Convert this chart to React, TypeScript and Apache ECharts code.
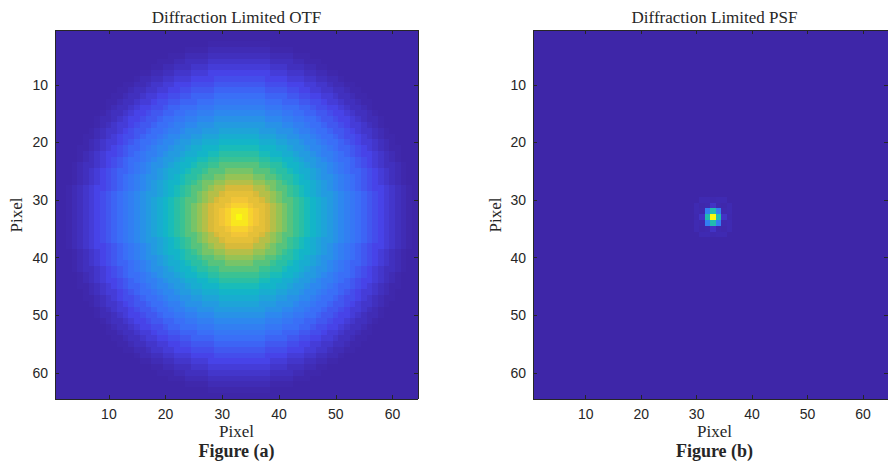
import React, { useEffect, useRef } from "react";
import * as echarts from "echarts";

// ---- data ----
const gridSize = 64; // pixels per side in both images
const pixelCategories = Array.from({ length: gridSize }, (_, i) => String(i + 1));
const tickLabels = [10, 20, 30, 40, 50, 60];

// OTF: value read along the centre row, indexed by radius (pixels) from the centre
const otfCenter = [33, 33];
const otfRadialProfile = [
  1.0, 0.96, 0.92, 0.88, 0.84, 0.8, 0.755, 0.715, 0.675, 0.635, 0.595,
  0.56, 0.52, 0.48, 0.445, 0.41, 0.375, 0.34, 0.305, 0.27, 0.24, 0.21,
  0.18, 0.15, 0.125, 0.1, 0.075, 0.055, 0.035, 0.02, 0.007, 0, 0,
];

// PSF: peak pixel and the values of the cells around it [dx, dy, value]
const psfCenter = [33, 33];
const psfCells = [
  [0, 0, 1.0],
  [1, 0, 0.54], [-1, 0, 0.54], [0, 1, 0.54], [0, -1, 0.54],
  [1, 1, 0.27], [-1, 1, 0.27], [1, -1, 0.27], [-1, -1, 0.27],
  [2, 0, 0.045], [-2, 0, 0.045], [0, 2, 0.045], [0, -2, 0.045],
  [2, 1, 0.011], [-2, 1, 0.011], [2, -1, 0.011], [-2, -1, 0.011],
  [1, 2, 0.011], [-1, 2, 0.011], [1, -2, 0.011], [-1, -2, 0.011],
  [2, 2, 0.006], [-2, 2, 0.006], [2, -2, 0.006], [-2, -2, 0.006],
  [3, 0, 0.012], [-3, 0, 0.012], [0, 3, 0.012], [0, -3, 0.012],
  [3, 1, 0.015], [-3, 1, 0.015], [3, -1, 0.015], [-3, -1, 0.015],
  [1, 3, 0.015], [-1, 3, 0.015], [1, -3, 0.015], [-1, -3, 0.015],
  [3, 2, 0.015], [-3, 2, 0.015], [3, -2, 0.015], [-3, -2, 0.015],
  [2, 3, 0.015], [-2, 3, 0.015], [2, -3, 0.015], [-2, -3, 0.015],
];

// parula-like colormap
const parulaColors = [
  "#3E26A8", "#4743E8", "#3B6CF8", "#2E87F0", "#1FA2DA", "#10BAC3",
  "#3CC290", "#8AC55A", "#D8BA3A", "#F8C836", "#F9FB0E",
];

// ---- build tables the library needs ----
function buildOtf() {
  const out: number[][] = [];
  for (let y = 1; y <= gridSize; y++) {
    for (let x = 1; x <= gridSize; x++) {
      const r = Math.round(Math.hypot(x - otfCenter[0], y - otfCenter[1]));
      const v = r < otfRadialProfile.length ? otfRadialProfile[r] : 0;
      out.push([x - 1, y - 1, v]);
    }
  }
  return out;
}

function buildPsf() {
  const map = new Map<string, number>();
  psfCells.forEach(([dx, dy, v]) => map.set(`${psfCenter[0] + dx},${psfCenter[1] + dy}`, v));
  const out: number[][] = [];
  for (let y = 1; y <= gridSize; y++) {
    for (let x = 1; x <= gridSize; x++) {
      out.push([x - 1, y - 1, map.get(`${x},${y}`) ?? 0]);
    }
  }
  return out;
}

const axisColor = "#262626";
const labelFont = { fontFamily: "Liberation Sans, Arial, sans-serif", fontSize: 14, color: axisColor };
const isTick = (_i: number, value: string) => tickLabels.includes(Number(value));

function xAxisDef(gridIndex: number, position: "top" | "bottom") {
  return {
    type: "category",
    gridIndex,
    position,
    data: pixelCategories,
    boundaryGap: true,
    z: 10,
    axisLine: { show: true, onZero: false, lineStyle: { color: axisColor, width: 1 } },
    axisTick: { show: true, inside: true, length: 4, alignWithLabel: true, interval: isTick, lineStyle: { color: axisColor } },
    axisLabel: { show: position === "bottom", interval: isTick, margin: 8, ...labelFont },
    splitLine: { show: false },
  };
}

function yAxisDef(gridIndex: number, position: "left" | "right") {
  return {
    type: "category",
    gridIndex,
    position,
    inverse: true,
    data: pixelCategories,
    boundaryGap: true,
    z: 10,
    axisLine: { show: true, onZero: false, lineStyle: { color: axisColor, width: 1 } },
    axisTick: { show: true, inside: true, length: 4, alignWithLabel: true, interval: isTick, lineStyle: { color: axisColor } },
    axisLabel: { show: position === "left", interval: isTick, margin: 7, ...labelFont },
    splitLine: { show: false },
  };
}

function textEl(text: string, x: number, y: number, size: number, bold = false, rotation = 0) {
  return {
    type: "text",
    x,
    y,
    rotation,
    style: {
      text,
      font: `${bold ? "bold " : ""}${size}px "Liberation Serif", "Times New Roman", serif`,
      fill: "#262626",
      align: "center",
      verticalAlign: "middle",
      textAlign: "center",
      textVerticalAlign: "middle",
    },
  };
}

export default function App() {
  const ref = useRef<HTMLDivElement>(null);
  useEffect(() => {
    if (!ref.current) return;
    const chart = echarts.init(ref.current, null, { renderer: "svg" });
    const option = {
      animation: false,
      backgroundColor: "#ffffff",
      grid: [
        { left: 55, top: 30, width: 363, height: 369 },
        { left: 533, top: 30, width: 363, height: 369 },
      ],
      xAxis: [xAxisDef(0, "bottom"), xAxisDef(0, "top"), xAxisDef(1, "bottom"), xAxisDef(1, "top")],
      yAxis: [yAxisDef(0, "left"), yAxisDef(0, "right"), yAxisDef(1, "left"), yAxisDef(1, "right")],
      visualMap: {
        type: "continuous",
        show: false,
        min: 0,
        max: 1,
        dimension: 2,
        seriesIndex: [0, 1],
        inRange: { color: parulaColors },
      },
      series: [
        { type: "heatmap", xAxisIndex: 0, yAxisIndex: 0, data: buildOtf(), itemStyle: { borderWidth: 0 }, emphasis: { disabled: true } },
        { type: "heatmap", xAxisIndex: 2, yAxisIndex: 2, data: buildPsf(), itemStyle: { borderWidth: 0 }, emphasis: { disabled: true } },
      ],
      graphic: [
        textEl("Diffraction Limited OTF", 236.5, 17, 17),
        textEl("Diffraction Limited PSF", 714.5, 17, 17),
        textEl("Pixel", 236.5, 431, 17),
        textEl("Pixel", 714.5, 431, 17),
        textEl("Figure (a)", 236.5, 451, 18, true),
        textEl("Figure (b)", 714.5, 451, 18, true),
        textEl("Pixel", 16.5, 215, 17, false, Math.PI / 2),
        textEl("Pixel", 495, 215, 17, false, Math.PI / 2),
      ],
    };
    chart.setOption(option as any);
    const svg = ref.current.querySelector("svg");
    if (svg) svg.style.shapeRendering = "crispEdges";
    return () => chart.dispose();
  }, []);
  return (
    <div
      ref={ref}
      style={{ position: "fixed", left: 0, top: 0, width: 888, height: 466, background: "#fff" }}
    />
  );
}
